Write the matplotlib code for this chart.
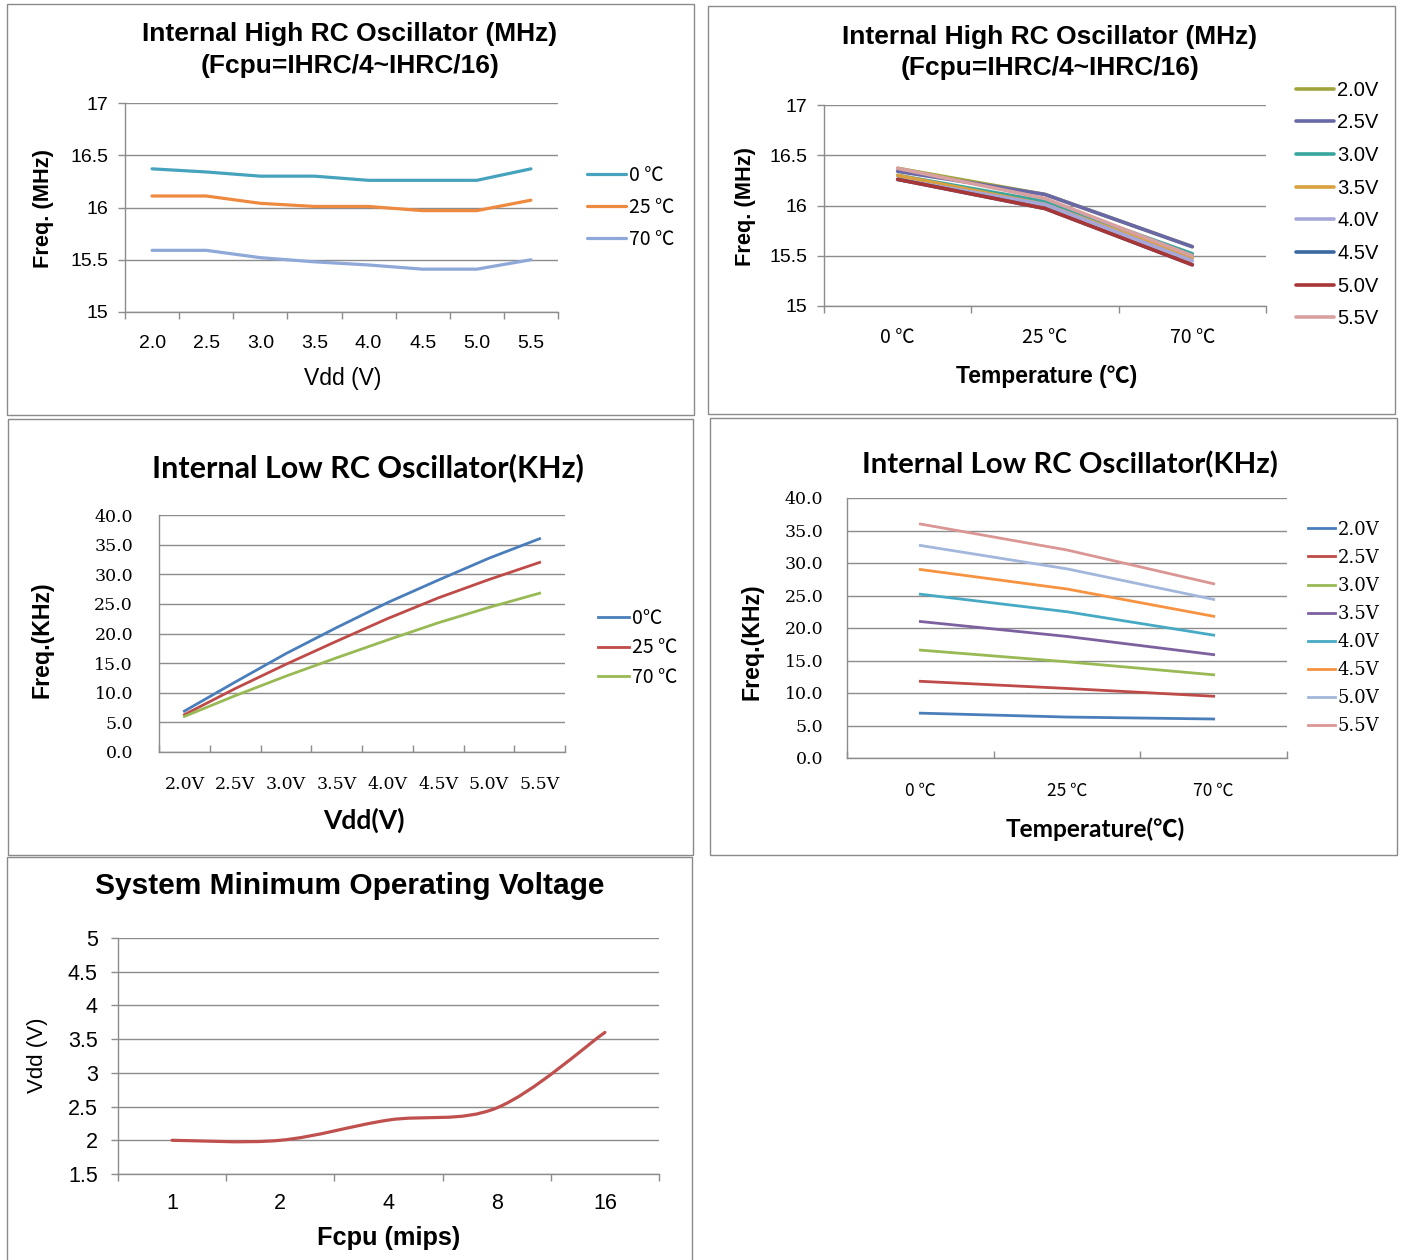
import numpy as np
import matplotlib
matplotlib.use("Agg")
import matplotlib.pyplot as plt
from matplotlib.patches import Rectangle, PathPatch
from matplotlib.path import Path

# ---------------- data ----------------
vdd_labels = ["2.0", "2.5", "3.0", "3.5", "4.0", "4.5", "5.0", "5.5"]
vdd_labels_v = ["2.0V", "2.5V", "3.0V", "3.5V", "4.0V", "4.5V", "5.0V", "5.5V"]
temp_labels = ["0 ℃", "25 ℃", "70 ℃"]

# Internal High RC (MHz) per temperature, over Vdd
ihrc_0c = [16.37, 16.34, 16.30, 16.30, 16.26, 16.26, 16.26, 16.37]
ihrc_25c = [16.11, 16.11, 16.04, 16.01, 16.01, 15.97, 15.97, 16.07]
ihrc_70c = [15.59, 15.59, 15.52, 15.48, 15.45, 15.41, 15.41, 15.50]

# Internal Low RC (KHz) per temperature, over Vdd
ilrc_0c = [6.9, 11.8, 16.6, 21.0, 25.2, 29.0, 32.7, 36.0]
ilrc_25c = [6.3, 10.7, 14.8, 18.7, 22.5, 26.0, 29.1, 32.0]
ilrc_70c = [6.0, 9.5, 12.8, 15.9, 18.9, 21.8, 24.4, 26.8]

# System minimum operating voltage
fcpu_labels = ["1", "2", "4", "8", "16"]
min_vdd = [2.00, 2.00, 2.30, 2.48, 3.60]

# ---------------- layout helpers ----------------
W, H = 1401, 1260
fig = plt.figure(figsize=(W / 100, H / 100), dpi=100)
fig.patch.set_facecolor("white")

def fx(x):
    return x / W

def fy(y):
    return 1 - y / H

def rect(x0, y0, x1, y1):
    return [x0 / W, 1 - y1 / H, (x1 - x0) / W, (y1 - y0) / H]

def frame(x0, y0, x1, y1):
    fig.patches.append(Rectangle((fx(x0), fy(y1)), (x1 - x0) / W, (y1 - y0) / H,
                                 transform=fig.transFigure, fill=False,
                                 ec="#8a8a8a", lw=1.0))

SANS = ["Liberation Sans", "Noto Sans CJK SC", "DejaVu Sans"]
SERIF = ["DejaVu Serif", "Noto Sans CJK SC"]
CJK = ["Noto Sans CJK SC", "DejaVu Sans"]
CAL = ["Lato", "Noto Sans CJK SC", "DejaVu Sans"]
GRID = "#8c8c8c"

def text(x, y, s, size, family=SANS, weight="normal", rot=0, ha="center"):
    fig.text(fx(x), fy(y), s, ha=ha, va="center", fontsize=size,
             family=family, weight=weight, rotation=rot, color="black")

def style(ax, ncat, ylim, yticks, ylabels, xlabels, yfam, xfam, tsize,
          xtick_dir="out", ytick_len=5, xpad=14, ypad=6):
    ax.set_xlim(-0.5, ncat - 0.5)
    ax.set_ylim(*ylim)
    ax.set_yticks(yticks)
    ax.set_yticklabels(ylabels, family=yfam, fontsize=tsize)
    ax.yaxis.grid(True, color=GRID, lw=1.0)
    ax.set_axisbelow(True)
    for s in ("top", "right"):
        ax.spines[s].set_visible(False)
    for s in ("left", "bottom"):
        ax.spines[s].set_color(GRID)
        ax.spines[s].set_linewidth(1.0)
    ax.set_xticks(np.arange(-0.5, ncat, 1.0))
    ax.set_xticklabels([])
    ax.set_xticks(np.arange(ncat), minor=True)
    ax.set_xticklabels(xlabels, minor=True, family=xfam, fontsize=tsize)
    ax.tick_params(axis="x", which="major", direction=xtick_dir, length=5,
                   color=GRID, width=1.0)
    ax.tick_params(axis="x", which="minor", length=0, pad=xpad)
    ax.tick_params(axis="y", direction="out", length=ytick_len, color=GRID,
                   width=1.0, pad=ypad)
    ax.set_facecolor("white")

def legend(ax, handles, labels, x, ycenter, fam, size, hl, spacing):
    ax.legend(handles, labels, loc="center left",
              bbox_to_anchor=(fx(x), fy(ycenter)), bbox_transform=fig.transFigure,
              frameon=False, borderpad=0, borderaxespad=0, handlelength=hl,
              handletextpad=0.15, labelspacing=spacing,
              prop={"family": fam, "size": size})

# ---------------- frames ----------------
frame(7, 4, 694, 415)
frame(708, 6, 1395, 414)
frame(8, 419, 693, 855)
frame(710, 418, 1397, 855)
frame(7, 857, 692, 1262)

# ---------------- Panel 1 ----------------
ax1 = fig.add_axes(rect(125, 103, 558, 312))
c1 = ["#46A3BE", "#EE8A3F", "#8EA8D8"]
x8 = np.arange(len(vdd_labels))
l1 = []
for vals, c in zip([ihrc_0c, ihrc_25c, ihrc_70c], c1):
    l1 += ax1.plot(x8, vals, color=c, lw=2.3, solid_capstyle="round")
style(ax1, 8, (15, 17), [15, 15.5, 16, 16.5, 17], ["15", "15.5", "16", "16.5", "17"],
      vdd_labels, SANS, SANS, 14, xpad=16.5, ypad=7)
legend(ax1, l1, temp_labels, 587, 207.5, CJK, 14, 2.0, 0.58)
text(350, 34, "Internal High RC Oscillator (MHz)", 19, weight="bold")
text(350, 66, "(Fcpu=IHRC/4~IHRC/16)", 19, weight="bold")
text(343, 378, "Vdd (V)", 16.5)
text(44, 208, "Freq. (MHz)", 15.7, weight="bold", rot=90)

# ---------------- Panel 2 ----------------
ax2 = fig.add_axes(rect(824, 105, 1266, 306))
c2 = ["#A0A43C", "#6868A8", "#38A69C", "#D9A03E", "#A6A6D8", "#3A68A0", "#A83636", "#D8A0A0"]
x3 = np.arange(len(temp_labels))
ihrc_by_vdd = np.array([ihrc_0c, ihrc_25c, ihrc_70c]).T
l2 = []
for vals, c in zip(ihrc_by_vdd, c2):
    l2 += ax2.plot(x3, vals, color=c, lw=2.6, solid_capstyle="round")
style(ax2, 3, (15, 17), [15, 15.5, 16, 16.5, 17], ["15", "15.5", "16", "16.5", "17"],
      temp_labels, SANS, CJK, 14, xpad=15, ypad=7)
legend(ax2, l2, vdd_labels_v, 1296, 204.5, SANS, 14.5, 1.9, 0.68)
text(1050, 37, "Internal High RC Oscillator (MHz)", 19, weight="bold")
text(1050, 68, "(Fcpu=IHRC/4~IHRC/16)", 19, weight="bold")
text(1047, 376, "Temperature (℃)", 16.5, family=SANS, weight="bold")
text(745, 206, "Freq. (MHz)", 15.7, weight="bold", rot=90)

# ---------------- Panel 3 ----------------
ax3 = fig.add_axes(rect(159, 515, 565, 752))
c3 = ["#4A7EBB", "#BE4B48", "#98B954"]
l3 = []
for vals, c in zip([ilrc_0c, ilrc_25c, ilrc_70c], c3):
    l3 += ax3.plot(x8, vals, color=c, lw=2.0)
yt = np.arange(0, 41, 5)
style(ax3, 8, (0, 40), yt, ["%.1f" % v for v in yt], vdd_labels_v, SERIF, SERIF, 12.5,
      xtick_dir="in", ytick_len=0, xpad=17, ypad=18.7)
legend(ax3, l3, ["0℃", "25 ℃", "70 ℃"], 598, 648, CJK, 14, 1.6, 0.45)
text(368, 468, "Internal Low RC Oscillator(KHz)", 22, family=CAL, weight="bold")
text(364, 820, "Vdd(V)", 19, family=CAL, weight="bold")
text(42, 640, "Freq.(KHz)", 16.7, weight="bold", rot=90)

# ---------------- Panel 4 ----------------
ax4 = fig.add_axes(rect(847, 498, 1287, 758))
c4 = ["#4A7EBB", "#BE4B48", "#98B954", "#7D60A0", "#46AAC5", "#F69240", "#A2B7DB", "#DA9694"]
ilrc_by_vdd = np.array([ilrc_0c, ilrc_25c, ilrc_70c]).T
l4 = []
for vals, c in zip(ilrc_by_vdd, c4):
    l4 += ax4.plot(x3, vals, color=c, lw=2.0)
style(ax4, 3, (0, 40), yt, ["%.1f" % v for v in yt], temp_labels, SERIF, CJK, 12.5,
      xtick_dir="in", ytick_len=0, xpad=17, ypad=17)
legend(ax4, l4, vdd_labels_v, 1308, 628, SERIF, 13, 1.5, 0.56)
text(1070, 465, "Internal Low RC Oscillator(KHz)", 21.2, family=CAL, weight="bold")
text(1095, 829, "Temperature(℃)", 17.6, family=CAL, weight="bold")
text(752, 642, "Freq.(KHz)", 16.7, weight="bold", rot=90)

# ---------------- Panel 5 ----------------
ax5 = fig.add_axes(rect(118, 938, 659, 1174))
x5 = np.arange(len(fcpu_labels), dtype=float)
pts = np.column_stack([x5, min_vdd])
verts = [pts[0]]
codes = [Path.MOVETO]
n = len(pts)
for i in range(n - 1):
    p0 = pts[i - 1] if i > 0 else pts[i]
    p1, p2 = pts[i], pts[i + 1]
    p3 = pts[i + 2] if i + 2 < n else pts[i + 1]
    verts += [p1 + (p2 - p0) / 6.0, p2 - (p3 - p1) / 6.0, p2]
    codes += [Path.CURVE4] * 3
ax5.add_patch(PathPatch(Path(verts, codes), fill=False, ec="#C0504D", lw=2.3,
                        capstyle="round"))
style(ax5, 5, (1.5, 5), [1.5, 2, 2.5, 3, 3.5, 4, 4.5, 5],
      ["1.5", "2", "2.5", "3", "3.5", "4", "4.5", "5"], fcpu_labels, SANS, SANS, 15.5,
      xpad=13.5, ypad=9.5)
text(350, 886, "System Minimum Operating Voltage", 21.5, weight="bold")
text(389, 1238, "Fcpu (mips)", 18.3, weight="bold")
text(37, 1055, "Vdd (V)", 16, rot=90)

fig.savefig("out.png", dpi=100, facecolor="white")
